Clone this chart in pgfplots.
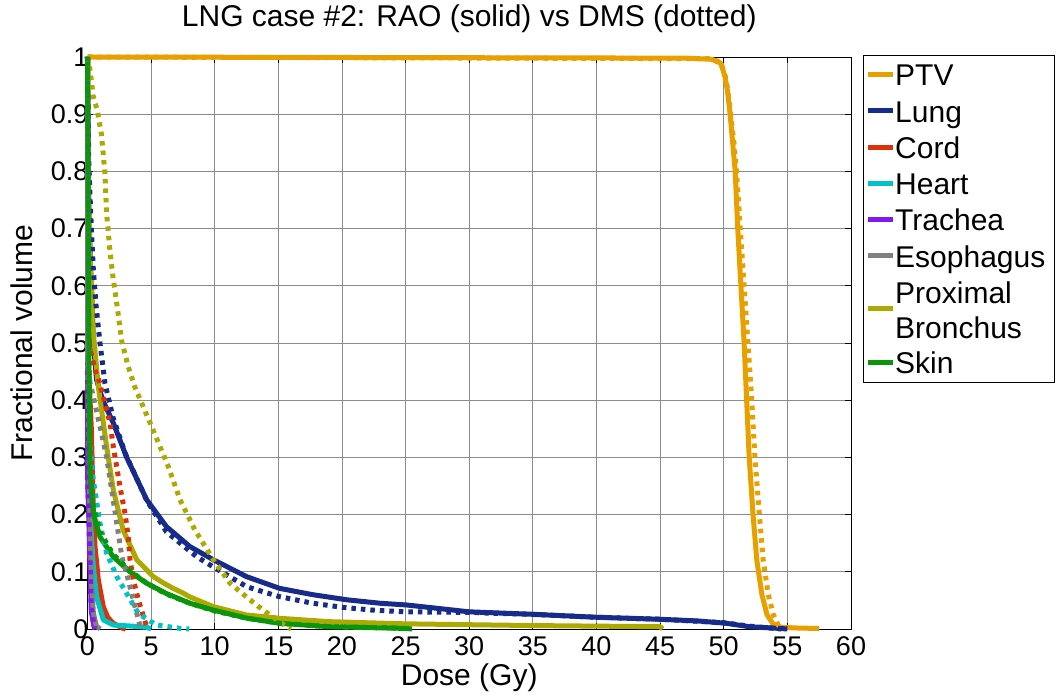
\documentclass[border=0pt]{standalone}
\usepackage{pgfplots}
\pgfplotsset{compat=1.18}
\usepackage{fontspec}
\setmainfont{Liberation Sans}
\definecolor{cPTV}{RGB}{232,160,0}
\definecolor{cLung}{RGB}{22,43,138}
\definecolor{cCord}{RGB}{220,50,10}
\definecolor{cHeart}{RGB}{0,196,196}
\definecolor{cTrach}{RGB}{128,25,235}
\definecolor{cEso}{RGB}{128,128,128}
\definecolor{cBron}{RGB}{172,170,0}
\definecolor{cSkin}{RGB}{10,150,10}
\begin{document}
\begin{tikzpicture}
\useasboundingbox (-87.5pt,-71pt) rectangle (969.5pt,629pt);
\begin{axis}[
  at={(0pt,0pt)}, anchor=south west,
  scale only axis, width=763.5pt, height=572pt,
  xmin=0, xmax=60, ymin=0, ymax=1,
  clip=false,
  xtick={0,5,10,15,20,25,30,35,40,45,50,55,60},
  ytick={0,0.1,0.2,0.3,0.4,0.5,0.6,0.7,0.8,0.9,1},
  /pgf/number format/assume math mode=true,
  tick label style={font=\fontsize{27}{32}\selectfont},
  xticklabel style={yshift=-4pt},
  yticklabel style={xshift=4.5pt},
  tick align=inside, tick pos=both,
  major tick length=6pt,
  every tick/.style={black, line width=0.8pt},
  grid=major,
  major grid style={black!45, line width=0.8pt},
  axis line style={black, line width=0.9pt},
  title={LNG case \#2: RAO (solid) vs DMS (dotted)},
  title style={font=\fontsize{30}{36}\selectfont, at={(axis description cs:0.5,1)}, anchor=base, yshift=24pt},
  xlabel={Dose (Gy)},
  xlabel style={font=\fontsize{30}{36}\selectfont, at={(axis description cs:0.5,0)}, anchor=base, yshift=-57pt},
  ylabel={Fractional volume},
  ylabel style={font=\fontsize{30}{36}\selectfont, at={([xshift=-54.5pt]axis description cs:0,0.5)}, anchor=base, rotate=0},
  sol/.style={line width=5pt, line join=round},
  dot/.style={line width=5pt, dash pattern=on 4.5pt off 5pt, line cap=butt},
]
% ---- RAO (solid)
\addplot[sol, cPTV] coordinates {(0,1) (47,0.998) (49.0,0.996) (49.5,0.993) (49.8,0.988) (50.1,0.965) (50.3,0.94) (50.5,0.9) (50.7,0.85) (50.9,0.8) (51.1,0.7) (51.35,0.6) (51.6,0.5) (51.8,0.4) (52.0,0.3) (52.3,0.2) (52.6,0.12) (53.0,0.06) (53.4,0.025) (53.9,0.008) (54.5,0.003) (56,0.0015) (57.5,0.001)};
\addplot[sol, cLung] coordinates {(0,1) (0.05,0.85) (0.1,0.75) (0.3,0.58) (0.5,0.49) (0.72,0.435) (1.2,0.40) (2.03,0.36) (3.08,0.30) (4.65,0.226) (6.2,0.179) (8.05,0.144) (9.9,0.121) (12.5,0.0915) (15.1,0.071) (17.7,0.060) (20.4,0.051) (23,0.045) (25.07,0.042) (30,0.030) (35,0.0257) (40,0.0205) (45,0.017) (48,0.014) (50.2,0.010) (52,0.004) (54.4,0.001) (55,0)};
\addplot[sol, cCord] coordinates {(0,1) (0.03,0.5) (0.1,0.45) (0.3,0.35) (0.45,0.22) (0.59,0.144) (0.85,0.086) (1.24,0.039) (1.6,0.02) (2.03,0.010) (2.8,0.001) (3,0)};
\addplot[sol, cHeart] coordinates {(0,1) (0.02,0.38) (0.2,0.2) (0.46,0.109) (0.72,0.056) (1.24,0.016) (2.03,0.007) (3.5,0.005) (4.65,0.003) (5,0)};
\addplot[sol, cTrach] coordinates {(0,1) (0.02,0.25) (0.1,0.2) (0.2,0.1) (0.3,0.03) (0.5,0.005) (0.6,0)};
\addplot[sol, cEso] coordinates {(0,1) (0.02,0.45) (0.1,0.35) (0.2,0.173) (0.3,0.09) (0.46,0.028) (0.7,0.005) (1.0,0)};
\addplot[sol, cBron] coordinates {(0,1) (0.05,0.8) (0.2,0.65) (0.33,0.604) (0.46,0.517) (0.85,0.424) (1.5,0.319) (2.03,0.243) (2.8,0.173) (3.87,0.121) (5.17,0.0915) (6.0,0.08) (6.74,0.071) (7.5,0.063) (8.05,0.056) (9.9,0.039) (12.5,0.0245) (15.1,0.0187) (19,0.0128) (25,0.009) (35,0.006) (45,0.004) (45.2,0)};
\addplot[sol, cSkin] coordinates {(0,1) (0.05,0.75) (0.1,0.5) (0.15,0.35) (0.2,0.26) (0.46,0.202) (0.98,0.161) (2.03,0.126) (3.34,0.10) (4.65,0.080) (6.2,0.062) (8.05,0.045) (9.9,0.033) (12.5,0.019) (15.1,0.010) (19,0.004) (25,0.001) (25.5,0)};
% ---- DMS (dotted)
\addplot[dot, cPTV] coordinates {(0,1) (49,0.997) (49.8,0.988) (50.2,0.96) (50.5,0.91) (50.8,0.85) (51.0,0.8) (51.3,0.7) (51.6,0.6) (51.9,0.5) (52.2,0.4) (52.45,0.3) (52.8,0.2) (53.1,0.12) (53.5,0.06) (53.9,0.025) (54.3,0.006) (54.6,0)};
\addplot[dot, cLung] coordinates {(0,1) (0.05,0.9) (0.1,0.82) (0.2,0.756) (0.33,0.686) (0.46,0.628) (0.67,0.566) (0.98,0.5) (1.37,0.43) (2.0,0.37) (3.0,0.305) (4.65,0.225) (6.2,0.17) (8.6,0.126) (10,0.107) (12.5,0.074) (15,0.057) (17.7,0.045) (20,0.038) (22.4,0.033) (25,0.030) (30,0.029) (32.5,0.027) (35,0.0255) (40,0.0205) (45,0.017) (50,0.011) (52,0.005) (54,0.001) (54.5,0)};
\addplot[dot, cCord] coordinates {(0,1) (0.05,0.52) (0.2,0.49) (0.59,0.453) (0.93,0.432) (1.3,0.40) (1.77,0.36) (2.03,0.319) (2.55,0.249) (2.95,0.202) (3.2,0.161) (3.34,0.121) (3.6,0.086) (4.0,0.051) (4.4,0.0215) (4.65,0.004) (4.8,0)};
\addplot[dot, cHeart] coordinates {(0,1) (0.03,0.4) (0.1,0.36) (0.2,0.319) (0.46,0.26) (0.98,0.185) (1.5,0.133) (2.3,0.0915) (3.08,0.062) (4.0,0.027) (5.4,0.007) (7.3,0.001) (8,0)};
\addplot[dot, cTrach] coordinates {(0,1) (0.02,0.25) (0.1,0.21) (0.2,0.12) (0.3,0.04) (0.5,0.005) (0.6,0)};
\addplot[dot, cEso] coordinates {(0,1) (0.02,0.47) (0.2,0.43) (0.46,0.406) (0.98,0.354) (1.5,0.301) (1.9,0.243) (2.3,0.185) (2.7,0.126) (3.2,0.086) (3.6,0.051) (4.0,0.016) (4.2,0)};
\addplot[dot, cBron] coordinates {(0,1) (0.2,0.977) (0.46,0.93) (0.77,0.907) (1.1,0.864) (1.37,0.797) (1.5,0.727) (1.77,0.66) (2.0,0.616) (2.3,0.569) (2.7,0.502) (3.2,0.459) (3.7,0.424) (5.04,0.354) (6.35,0.284) (7.27,0.226) (8.44,0.173) (9.9,0.121) (11.2,0.080) (12.77,0.051) (13.8,0.033) (14.9,0.016) (15.5,0.006) (16,0)};
\addplot[dot, cSkin] coordinates {(0,1) (0.05,0.78) (0.1,0.55) (0.15,0.38) (0.2,0.28) (0.46,0.215) (0.98,0.17) (1.5,0.15) (2.03,0.13) (3.34,0.102) (4.65,0.080) (6.2,0.061) (8.05,0.045) (9.9,0.032) (12.5,0.019) (15.1,0.010) (19,0.004) (24,0.002) (24.5,0)};
\end{axis}
% ---- legend
\draw[black, line width=0.8pt, fill=white] (775.5pt,247pt) rectangle (966.5pt,573.3pt);
\begin{scope}[every node/.style={anchor=base west, inner sep=0pt, font=\fontsize{30}{36}\selectfont}]
\foreach \c/\ly/\ty/\t in {cPTV/554.7/543/PTV, cLung/518/506.6/Lung, cCord/481.7/470.3/Cord, cHeart/445/434.3/Heart, cTrach/409/398.3/Trachea, cEso/373/361.7/Esophagus, cSkin/266.3/255.3/Skin}{
  \draw[\c, line width=5pt] (780.8pt,\ly pt) -- (805.8pt,\ly pt);
  \node at (807.5pt,\ty pt) {\t};
}
\draw[cBron, line width=5pt] (780.8pt,320.7pt) -- (805.8pt,320.7pt);
\node at (807.5pt,325.3pt) {Proximal};
\node at (807.5pt,290.3pt) {Bronchus};
\end{scope}
\end{tikzpicture}
\end{document}
